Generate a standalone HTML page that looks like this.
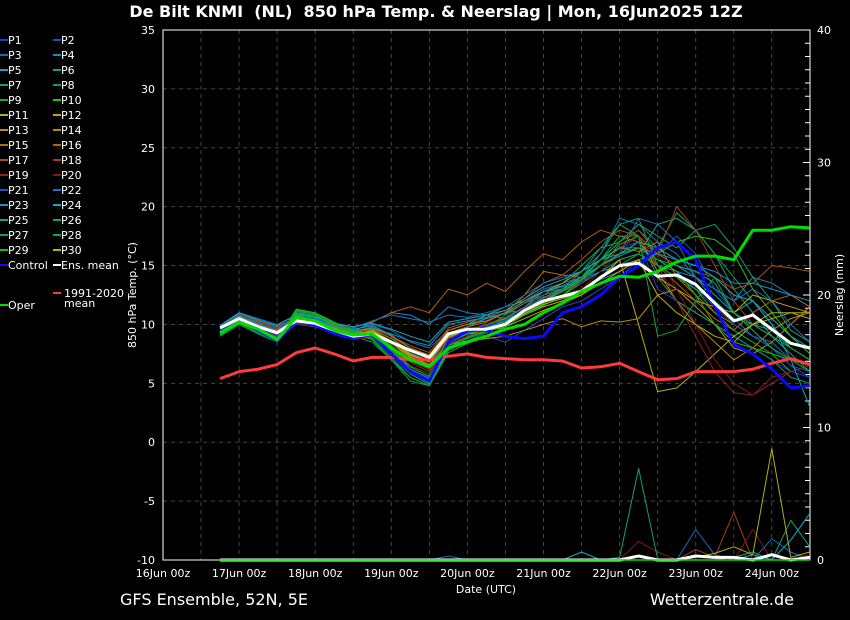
<!DOCTYPE html>
<html><head><meta charset="utf-8"><style>
body{margin:0;background:#000;}
svg{display:block;font-family:"DejaVu Sans","Liberation Sans",sans-serif;}
</style></head><body>
<svg id="c" width="850" height="620" viewBox="0 0 850 620" xmlns="http://www.w3.org/2000/svg">
<rect width="850" height="620" fill="#000"/>
<text x="436" y="17" fill="#fff" font-size="16" font-weight="bold" text-anchor="middle" style="white-space:pre">De Bilt KNMI  (NL)  850 hPa Temp. &amp; Neerslag | Mon, 16Jun2025 12Z</text>
<g id="grid"></g><g id="axes"></g><g id="precip"></g><g id="series"></g><g id="legend"></g>
<text x="136" y="295" fill="#fff" font-size="11" text-anchor="middle" transform="rotate(-90 136 295)">850 hPa Temp. (°C)</text>
<text x="843" y="295" fill="#fff" font-size="11" text-anchor="middle" transform="rotate(-90 843 295)">Neerslag (mm)</text>
<text x="486" y="593" fill="#fff" font-size="11" text-anchor="middle">Date (UTC)</text>
<text x="120" y="605" fill="#fff" font-size="16">GFS Ensemble, 52N, 5E</text>
<text x="794" y="605" fill="#fff" font-size="16" text-anchor="end">Wetterzentrale.de</text>
</svg>
<script>
const dayLabels=["16Jun 00z","17Jun 00z","18Jun 00z","19Jun 00z","20Jun 00z","21Jun 00z","22Jun 00z","23Jun 00z","24Jun 00z"];
const tempTicks=[-10,-5,0,5,10,15,20,25,30,35];
const precipTicks=[0,10,20,30,40];
const ensMean=[9.7,10.5,9.8,9.3,10.3,10.1,9.5,9.0,9.2,8.5,7.8,7.2,9.2,9.6,9.6,10.0,11.2,12.0,12.4,12.8,14.0,15.0,15.2,14.1,14.2,13.4,11.8,10.3,10.8,9.6,8.4,8.0];
const control=[9.5,10.4,9.5,8.6,10.3,10.0,9.2,8.8,9.2,7.5,6.0,5.2,8.5,9.5,9.5,9.0,8.8,9.0,11.0,11.5,12.5,14.0,15.0,16.5,17.0,15.5,11.5,8.3,7.5,6.2,4.6,4.8];
const oper=[9.3,10.2,9.6,8.7,10.6,10.3,9.5,9.1,9.2,8.0,7.0,6.4,8.0,8.5,9.0,9.6,10.0,11.0,11.8,12.8,13.5,14.1,14.0,14.5,15.3,15.8,15.8,15.5,18.0,18.0,18.3,18.2];
const climate=[5.4,6.0,6.2,6.6,7.6,8.0,7.5,6.9,7.2,7.2,7.0,7.0,7.3,7.5,7.2,7.1,7.0,7.0,6.9,6.3,6.4,6.7,6.0,5.3,5.4,6.0,6.0,6.0,6.2,6.7,7.1,6.6];
const members=[
[9.8,10.8,9.5,8.7,10.0,9.8,9.3,8.9,9.5,8.0,6.2,5.5,8.8,9.3,9.8,10.2,11.0,12.5,13.0,14.0,15.5,16.5,17.0,13.0,12.0,11.0,10.0,9.0,8.0,7.0,6.0,5.5],
[9.6,10.5,9.7,9.0,10.4,10.2,9.6,9.3,9.8,9.0,7.5,6.5,9.0,9.4,9.0,8.5,9.5,10.5,11.5,12.0,13.0,14.0,15.5,16.0,17.5,16.0,13.0,11.0,9.5,8.0,6.5,6.0],
[9.9,11.0,10.5,10.0,10.8,10.6,10.0,9.5,10.0,9.5,8.5,8.0,9.5,10.0,10.5,11.0,12.0,13.0,13.5,14.0,15.0,16.0,19.0,18.5,17.0,14.0,12.0,10.5,9.0,8.5,7.0,6.5],
[9.7,10.6,9.9,9.4,10.1,10.0,9.6,9.4,10.2,11.0,10.8,10.0,11.5,11.0,10.8,10.5,11.5,12.8,13.2,13.8,14.5,15.5,16.0,15.0,14.5,14.0,13.0,12.0,14.0,13.5,12.5,11.5],
[9.5,10.6,10.2,9.1,10.5,10.4,9.8,9.6,9.9,9.1,8.0,7.3,9.2,9.8,10.5,11.0,11.2,12.0,12.5,13.0,13.8,14.5,15.5,16.0,15.0,14.0,12.5,11.0,12.0,10.5,9.0,8.0],
[9.6,10.8,10.0,9.3,10.8,10.3,9.9,9.5,9.6,8.8,7.8,7.0,9.5,10.0,10.8,11.5,12.0,12.8,13.0,13.5,14.5,15.0,16.0,18.5,19.0,18.0,16.0,13.0,11.0,9.0,7.5,6.0],
[9.2,10.3,9.4,8.5,11.0,10.8,9.8,9.0,8.5,7.0,5.5,4.8,8.0,9.0,9.5,10.5,11.5,12.2,13.0,14.0,16.0,18.5,17.5,14.0,12.0,11.0,10.0,9.0,8.0,7.0,5.5,5.0],
[9.0,10.2,9.5,8.8,11.2,10.9,10.1,9.6,9.0,7.8,6.0,5.0,8.2,9.0,9.8,10.8,11.8,12.5,13.5,15.0,16.5,17.0,18.0,16.5,19.5,18.0,16.0,14.0,12.0,10.0,8.0,7.0],
[9.4,10.7,9.8,9.0,10.9,10.6,9.7,9.2,9.4,8.2,6.8,6.0,8.5,9.2,9.6,10.0,11.0,11.5,12.0,13.0,14.0,15.5,16.0,15.0,14.0,13.0,11.0,9.5,8.5,7.5,6.0,6.5],
[9.3,10.5,9.7,8.6,11.3,11.0,10.2,9.4,9.2,8.0,6.5,5.8,8.8,9.5,10.0,10.5,11.0,11.8,12.5,13.5,15.0,16.8,17.5,16.0,17.0,17.5,17.2,16.0,13.0,11.0,9.0,7.5],
[9.5,10.4,9.6,9.2,10.2,10.0,9.4,9.0,9.3,8.4,7.2,6.5,8.6,9.2,9.4,9.8,10.5,11.2,11.8,12.5,14.0,15.5,10.0,4.3,4.6,6.0,7.5,9.0,10.0,10.5,11.0,11.0],
[9.7,10.6,9.8,9.3,10.4,10.2,9.6,9.1,9.5,8.6,7.4,6.8,8.9,9.4,9.6,10.0,10.8,11.5,12.0,12.5,13.5,14.5,15.5,14.0,13.0,12.0,11.5,11.0,12.5,12.0,11.5,11.0],
[9.6,10.5,9.7,9.2,10.3,10.1,9.5,9.0,9.4,8.5,7.3,6.6,8.3,8.6,8.8,9.0,9.5,10.0,10.5,9.8,10.3,10.2,10.5,12.5,13.0,11.5,10.0,8.0,7.5,8.5,10.0,11.5],
[9.8,10.7,9.9,9.4,10.5,10.3,9.7,9.2,9.7,9.0,8.0,7.4,9.5,10.0,10.3,11.0,12.0,12.8,13.5,14.5,15.5,16.5,17.5,14.5,12.0,10.0,8.5,7.0,8.0,9.5,10.5,11.0],
[9.7,10.6,10.0,9.5,10.5,10.2,9.8,9.3,9.6,8.8,7.8,7.2,9.3,9.8,10.2,11.0,12.5,14.5,14.2,14.0,15.0,16.5,16.2,17.0,14.0,12.5,11.0,10.0,9.0,8.0,7.0,6.5],
[9.9,10.9,10.3,9.8,10.6,10.4,10.0,9.8,10.2,11.0,11.5,11.0,13.0,12.5,13.5,12.8,14.5,16.0,15.5,17.0,18.0,17.5,17.0,15.0,13.5,12.0,10.5,9.5,11.0,12.0,12.5,11.5],
[9.8,10.8,10.1,9.6,10.7,10.5,9.9,9.4,9.8,9.0,8.2,7.6,9.7,10.2,10.6,11.2,12.2,13.5,14.2,15.5,17.0,18.0,17.5,16.0,15.0,14.5,14.0,13.0,13.5,15.0,14.8,14.5],
[9.6,10.6,9.9,9.2,10.4,10.1,9.6,9.0,9.2,8.4,7.0,6.2,8.8,9.5,10.0,10.6,11.5,12.5,13.0,14.0,15.5,17.0,18.0,16.0,20.0,18.0,15.0,12.0,10.0,9.0,8.0,7.0],
[9.5,10.5,9.6,9.0,10.2,10.0,9.4,8.8,9.0,8.0,6.8,6.0,8.5,9.2,9.6,10.2,11.2,12.2,12.8,13.5,15.0,16.5,17.5,15.0,12.0,9.0,6.0,4.2,4.0,5.0,6.0,6.5],
[9.4,10.4,9.5,8.9,10.1,9.9,9.3,8.7,8.9,7.8,6.5,5.8,8.3,9.0,9.5,10.0,11.0,12.0,12.5,13.0,14.5,16.0,17.0,16.0,13.0,10.0,7.0,5.0,4.0,5.5,6.0,6.5],
[9.6,10.6,9.7,9.1,10.3,10.1,9.5,9.1,9.3,8.5,7.6,6.9,9.0,9.6,9.9,10.4,11.4,12.3,12.9,13.6,15.0,16.0,16.5,15.5,14.5,13.0,11.5,10.0,9.0,8.0,6.5,5.5],
[9.8,10.9,10.2,9.7,10.6,10.5,9.9,9.7,10.3,10.8,10.5,10.2,10.8,10.6,11.0,11.5,12.5,13.5,14.0,14.5,16.0,19.0,18.5,17.0,16.0,14.0,13.0,12.0,13.0,12.0,10.0,8.5],
[9.7,10.7,10.0,9.5,10.5,10.3,9.8,9.4,9.7,9.2,8.6,8.2,10.0,10.3,10.6,10.9,11.8,12.8,13.3,14.0,15.0,15.8,16.5,16.0,15.5,15.0,14.5,13.5,13.5,13.0,12.5,12.0],
[9.9,11.0,10.4,9.9,10.8,10.6,10.1,9.8,10.1,9.6,9.0,8.5,10.2,10.5,10.8,11.2,12.2,13.2,13.8,14.5,15.5,16.0,17.0,16.5,15.5,15.0,14.0,12.5,12.0,10.0,7.0,3.0],
[9.3,10.4,9.6,8.9,10.6,10.4,9.6,9.2,9.1,7.6,6.2,5.4,8.4,9.2,9.7,10.3,11.2,12.3,13.0,14.0,15.5,16.5,16.5,15.5,15.0,14.5,13.5,11.0,10.0,9.5,8.0,7.0],
[9.2,10.2,9.4,8.7,10.9,10.7,9.9,9.3,9.0,7.4,5.8,4.9,8.0,8.8,9.4,10.0,11.0,12.0,12.8,14.0,15.5,17.0,18.5,17.5,16.5,18.0,18.5,16.5,14.0,12.0,9.5,8.5],
[9.1,10.1,9.3,8.6,11.1,10.9,10.0,9.4,8.8,7.2,5.5,4.8,7.8,8.6,9.3,10.0,11.0,12.0,13.0,14.5,16.5,18.5,19.0,15.0,14.0,13.0,12.0,10.5,10.0,9.0,8.0,7.0],
[9.0,10.0,9.2,8.5,11.2,11.0,10.1,9.3,8.7,7.0,5.2,4.8,7.6,8.4,9.0,9.8,10.8,11.6,12.5,13.8,15.5,17.5,17.5,9.0,9.5,12.0,14.0,11.0,9.5,8.0,7.0,6.0],
[9.2,10.3,9.5,8.8,11.0,10.8,9.9,9.3,9.1,7.8,6.4,5.6,8.2,8.9,9.5,10.2,11.2,12.0,12.8,13.8,15.0,16.0,16.5,15.5,14.5,12.5,10.0,8.5,8.0,7.5,7.0,6.5],
[9.6,10.5,9.8,9.2,10.3,10.1,9.5,9.1,9.4,8.6,7.5,6.9,9.0,9.4,9.7,10.1,10.9,11.7,12.2,12.8,14.0,15.0,15.5,12.5,11.0,10.0,9.0,8.5,10.0,11.0,11.0,10.5]];
const memberColors=["#1a3ad6","#1c4cc4","#1e68c0","#1a88c4","#18a4b4","#14a086","#10a064","#12a044","#18b020","#28c010","#b4b010","#c0a010","#b89010","#c08010","#b47010","#b06010","#a85010","#a04020","#902020","#801818","#1a50c8","#1a70c4","#1a90c4","#10a8c4","#10a094","#10a070","#10a050","#10a838","#20b418","#b4b010"];
const precipM11=[0,0,0,0,0,0,0,0,0,0,0,0,0,0,0,0,0,0,0,0,0,0,0,0,0,0.2,0.5,1.0,0.4,8.4,0.2,0.6,1.3];
const precipM26=[0,0,0,0,0,0,0,0,0,0,0,0,0,0,0,0,0,0,0,0,0,0.2,6.9,0.1,0,0,0,0.2,0.6,0,3.0,1.0,1.0];
const precipM24=[0,0,0,0,0,0,0,0,0,0,0,0,0,0,0,0,0,0,0,0.6,0,0,0,0,0,0,0,0,0.4,0,1.5,3.5,0.5];
const precipM18=[0,0,0,0,0,0,0,0,0,0,0,0,0,0,0,0,0,0,0,0,0,0,0,0,0,0.8,0.2,3.6,0,0,0,0,0];
const precipM20=[0,0,0,0,0,0,0,0,0,0,0,0,0,0,0,0,0,0,0,0,0,0,1.4,0.6,0,0,0,0,2.3,0,0,0.4,0.2];
const precipM3=[0,0,0,0,0,0,0,0,0,0,0,0,0.3,0,0,0,0,0,0,0,0,0,0,0,0,2.3,0.4,0,0,1.6,0.6,0,0.4];
const precipMean=[0,0,0,0,0,0,0,0,0,0,0,0,0,0,0,0,0,0,0,0,0,0,0.3,0,0,0.3,0.2,0.2,0,0.4,0,0.2,0];
const NS="http://www.w3.org/2000/svg";
const X0=163,DAY=76.1,TOP=30,BOT=560;
function xDay(d){return X0+d*DAY;}
function xIdx(i){return xDay(0.75+0.25*i);}
function yT(v){return BOT-(v+10)*(BOT-TOP)/45;}
function yP(v){return BOT-v*(BOT-TOP)/40;}
function mk(tag,attrs,parent){const e=document.createElementNS(NS,tag);for(const k in attrs)e.setAttribute(k,attrs[k]);parent.appendChild(e);return e;}
const g=document.getElementById('grid'),ax=document.getElementById('axes'),pg=document.getElementById('precip'),sg=document.getElementById('series'),lg=document.getElementById('legend');
for(let k=1;k<17;k++){const x=X0+k*DAY/2;const l=mk('line',{x1:x,x2:x,y1:TOP,y2:BOT,stroke:'#444','stroke-dasharray':'4,4','stroke-width':1},g);

}
tempTicks.forEach(v=>{const y=yT(v);const l=mk('line',{x1:X0,x2:810,y1:y,y2:y,stroke:'#444','stroke-dasharray':'4,4'},g);


const t=mk('text',{x:155,y:y+4,fill:'#fff','font-size':11,'text-anchor':'end'},ax);t.textContent=v;

});
precipTicks.forEach(v=>{const t=mk('text',{x:817,y:yP(v)+4,fill:'#fff','font-size':11},ax);t.textContent=v;

});
for(let v=0;v<=40;v++){const y=yP(v);const l=mk('line',{x1:810,x2:v%10?805:803,y1:y,y2:y,stroke:'#fff'},ax);

}
dayLabels.forEach((s,k)=>{const t=mk('text',{x:xDay(k),y:577,fill:'#fff','font-size':11,'text-anchor':'middle'},ax);t.textContent=s;

});
const fr=mk('rect',{x:X0,y:TOP,width:810-X0,height:BOT-TOP,fill:'none',stroke:'#fff'},ax);


function path(arr,fy,color,w,parent,name,n){let d='';for(let i=0;i<arr.length&&i<(n||32);i++){d+=(i?'L':'M')+xIdx(i).toFixed(1)+','+fy(arr[i]).toFixed(1);}
const p=mk('path',{d:d,fill:'none',stroke:color,'stroke-width':w,'stroke-linejoin':'round'},parent);

return p;}
const zeros=new Array(32).fill(0);
path(zeros,yP,'#ddd',1,pg,'precip-baseline');
[[precipM3,2],[precipM18,17],[precipM20,19],[precipM24,23],[precipM26,25],[precipM11,10]].forEach(([a,ci])=>path(a,yP,memberColors[ci],1,pg,'precip-member'));
path(precipMean,yP,'#fff',3,pg,'precip-ens-mean');
path(zeros,yP,'#00dd00',1.5,pg,'precip-oper');
members.forEach((m,i)=>path(m,yT,memberColors[i],1,sg,'temp-member-p'+(i+1)));
path(climate,yT,'#ff3a3a',3,sg,'temp-climate-mean');
path(control,yT,'#0a0aff',3,sg,'temp-control');
path(ensMean,yT,'#ffffff',3,sg,'temp-ens-mean');
path(oper,yT,'#00dd00',3,sg,'temp-oper');
for(let i=0;i<30;i++){const col=i%2,row=Math.floor(i/2);const x=col?53:0,y=40+row*15;
const l=mk('line',{x1:x,x2:x+8,y1:y,y2:y,stroke:memberColors[i],'stroke-width':2},lg);


const t=mk('text',{x:x+8,y:y+4,fill:'#fff','font-size':11},lg);t.textContent='P'+(i+1);

}
[[0,265,'#0a0aff','Control'],[53,265,'#fff','Ens. mean'],[53,293,'#ff3a3a','1991-2020'],[0,305,'#00dd00','Oper']].forEach(([x,y,c,s])=>{
const l=mk('line',{x1:x,x2:x+8,y1:y,y2:y,stroke:c,'stroke-width':2},lg);


const t=mk('text',{x:x+8+(s==='1991-2020'?3:0),y:y+4,fill:'#fff','font-size':11},lg);t.textContent=s;

});
const mt=mk('text',{x:64,y:307,fill:'#fff','font-size':11},lg);mt.textContent='mean';


</script>
</body></html>
